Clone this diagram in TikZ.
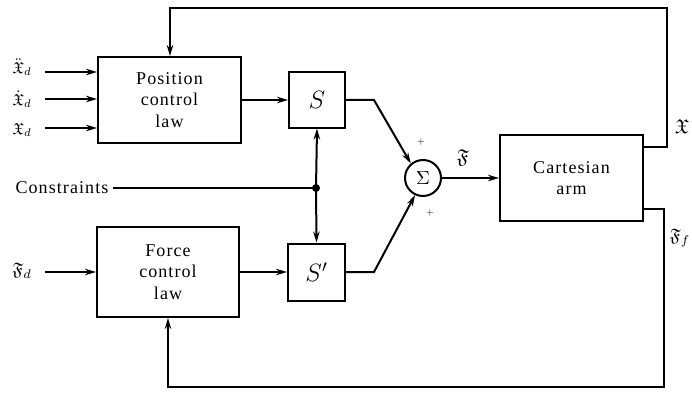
\documentclass[tikz,border=0pt]{standalone}
\usepackage{amssymb}
\usepackage{fontspec}
\setmainfont{Liberation Serif}[LetterSpace=6]
\usetikzlibrary{arrows.meta}
\newcommand{\mybigmath}[2][1.45]{\scalebox{#1}{$#2$}}
\begin{document}
\begin{tikzpicture}[x=1pt,y=-1pt,
  line width=2pt,
  blk/.style={draw, rectangle, inner sep=0pt, align=center, font=\fontsize{18}{21.5}\selectfont},
  arr/.style={-{Stealth[length=11pt,width=6.5pt]}},
  lbl/.style={inner sep=0pt}]
\useasboundingbox (0,0) rectangle (692,393);
\node[blk, minimum width=143pt, minimum height=86pt] (pos) at (169.5,100) {Position\\control\\law};
\node[blk, minimum width=142pt, minimum height=90pt] (force) at (168,272) {Force\\control\\law};
\node[blk, minimum width=56pt, minimum height=55pt] (S) at (317,100) {\mybigmath{S}};
\node[blk, minimum width=57pt, minimum height=57pt] (Sp) at (316.5,272) {\mybigmath{S'}};
\node[blk, minimum width=143pt, minimum height=86pt] (arm) at (571.5,178) {Cartesian\\arm};
\node[draw, circle, minimum size=36pt, inner sep=0pt] (sum) at (423,178) {\mybigmath[1.9]{\Sigma}};
\fill (316,188) circle (4pt);
\coordinate (dot) at (316,188);
% inputs
\node[lbl] (xdd) at (22,67) {\mybigmath[1.6]{\ddot{\mathfrak{X}}_d}};
\node[lbl] (xd) at (22,99) {\mybigmath[1.6]{\dot{\mathfrak{X}}_d}};
\node[lbl] (x) at (22,130) {\mybigmath[1.6]{\mathfrak{X}_d}};
\node[lbl] (fd) at (22,271) {\mybigmath[1.8]{\mathfrak{F}_d}};
\coordinate (i1) at (45,72);
\coordinate (i2) at (45,99);
\coordinate (i3) at (45,128);
\coordinate (i4) at (45,272);
\draw[arr] (i1) -- (pos.west |- i1);
\draw[arr] (i2) -- (pos.west |- i2);
\draw[arr] (i3) -- (pos.west |- i3);
\draw[arr] (i4) -- (force.west |- i4);
% to selection
\draw[arr] (pos.east) -- (S.west);
\draw[arr] (force.east) -- (Sp.west);
% constraints
\node[lbl, font=\fontsize{18}{20}\selectfont] (con) at (62,188) {Constraints};
\draw (con.east) ++(4,0) -- (dot);
\draw[arr] (dot) -- (S.south);
\draw[arr] (dot) -- (Sp.north);
% to summing
\coordinate (a1) at (374,100);
\coordinate (a2) at (374,272);
\draw[arr] (S.east) -- (a1) -- (sum.130);
\draw[arr] (Sp.east) -- (a2) -- (sum.-115);
\node[lbl] at (421,142) {$+$};
\node[lbl] at (430,213) {$+$};
\draw[arr] (sum.east) -- (arm.west);
\node[lbl] (F) at (463,158) {\mybigmath[2]{\mathfrak{F}}};
% feedback
\coordinate (t1) at (667,147);
\coordinate (t2) at (667,8);
\coordinate (t3) at (170,8);
\draw[arr] (arm.east |- t1) -- (t1) -- (t2) -- (t3) -- (pos.north -| t3);
\coordinate (b1) at (664,209);
\coordinate (b2) at (664,387);
\coordinate (b3) at (168,387);
\draw[arr] (arm.east |- b1) -- (b1) -- (b2) -- (b3) -- (force.south -| b3);
\node[lbl] (X) at (682,127) {\mybigmath[2]{\mathfrak{X}}};
\node[lbl] (Ff) at (680,238) {\mybigmath[1.8]{\mathfrak{F}_f}};
\end{tikzpicture}
\end{document}
